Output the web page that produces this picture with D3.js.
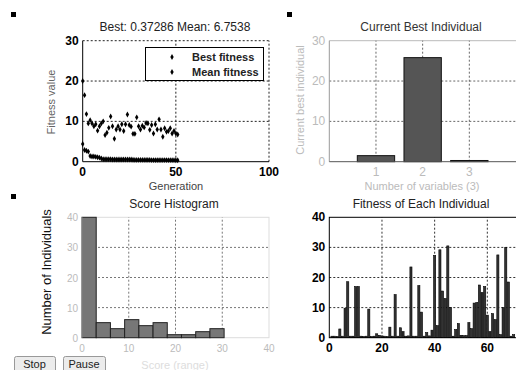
<!DOCTYPE html>
<html>
<head>
<meta charset="utf-8">
<script src="https://cdn.jsdelivr.net/npm/d3@7/dist/d3.min.js"></script>
<style>
  body { margin: 0; background: #fff; font-family: "Liberation Sans", Arial, sans-serif; }
  svg { display: block; }
</style>
</head>
<body>
<div id="chart"></div>
<script>
// ---- data ----
var bestFitness = [4.4, 2.9, 2.7, 2.5, 1.4, 1.3, 1.3, 1.2, 1.1, 1.0,
                   0.8, 0.6, 0.6, 0.6, 0.6, 0.6, 0.55, 0.55, 0.55, 0.55,
                   0.55, 0.55, 0.55, 0.55, 0.55, 0.55, 0.55, 0.5, 0.45, 0.45,
                   0.45, 0.45, 0.45, 0.45, 0.45, 0.45, 0.45, 0.4, 0.4, 0.4,
                   0.4, 0.4, 0.4, 0.4, 0.4, 0.4, 0.38, 0.38, 0.38, 0.38,
                   0.37, 0.37286];
var meanFitness = [20, 16.5, 11.8, 9.5, 10.3, 9.5, 8.8, 9.3, 7.7, 8.8,
                   9.5, 10, 6.6, 7.2, 8.4, 11.2, 8.8, 5.7, 8, 8.8,
                   8, 9.3, 7.6, 9.3, 11.7, 9.1, 8.7, 6.9, 6.9, 11,
                   8.8, 8, 8.9, 8.5, 9.6, 9.5, 7.9, 9.1, 7, 9.3,
                   8, 10.5, 8, 6.2, 8.3, 7.4, 7.6, 8.3, 7, 7.6,
                   7, 6.75];
var genTicks = [0, 50, 100];
var fitTicks = [0, 10, 20, 30];

var variables = [1, 2, 3];
var bestIndividual = [1.5, 25.8, 0.3];

var histEdges = [0, 3.04, 6.08, 9.12, 12.16, 15.2, 18.24, 21.28, 24.32, 27.36, 30.4];
var histCounts = [40, 5, 3, 6, 4, 5, 1, 1, 2, 3];
var histXTicks = [0, 10, 20, 30, 40];
var histYTicks = [0, 10, 20, 30, 40];

var individualFitness = [0.5, 0.5, 0.4, 2.9, 0.5, 9.8, 18.6, 0.5, 0.5, 17,
                         17, 0.5, 0.4, 0.5, 9.5, 0.4, 0.5, 1.3, 0.8, 0.6,
                         0.5, 0.4, 3.5, 0.5, 14.3, 0.5, 3.3, 2, 0.5, 0.6,
                         23.5, 0.5, 0.5, 17.3, 8.5, 0.5, 1.7, 0.6, 2.5, 27.3,
                         4, 29.2, 15.5, 13, 30.5, 10, 0.5, 2.7, 4.7, 0.8,
                         0.7, 0.7, 5, 3, 11.5, 11.7, 17.5, 15, 17, 7.5,
                         2, 8, 6, 27.5, 1, 10, 30, 18.5, 0.5, 1];
var indXTicks = [0, 20, 40, 60];
var indYTicks = [0, 10, 20, 30, 40];

var svg = d3.select("#chart").append("svg")
    .attr("width", 516)
    .attr("height", 370);

function grid(g, x, y, xs, ys, color) {
    g.selectAll(".gx").data(xs).enter().append("line")
        .attr("x1", function (d) { return x(d); }).attr("x2", function (d) { return x(d); })
        .attr("y1", y.range()[0]).attr("y2", y.range()[1])
        .attr("stroke", color).attr("stroke-dasharray", "2,2").attr("stroke-width", 1);
    g.selectAll(".gy").data(ys).enter().append("line")
        .attr("y1", function (d) { return y(d); }).attr("y2", function (d) { return y(d); })
        .attr("x1", x.range()[0]).attr("x2", x.range()[1])
        .attr("stroke", color).attr("stroke-dasharray", "2,2").attr("stroke-width", 1);
}

function ticks(g, x, y, xs, ys, color, weight, size) {
    g.selectAll(".tx").data(xs).enter().append("text")
        .attr("x", function (d) { return x(d); })
        .attr("y", y.range()[0] + 14)
        .attr("text-anchor", "middle")
        .attr("fill", color).attr("font-weight", weight).attr("font-size", size)
        .text(function (d) { return d; });
    g.selectAll(".ty").data(ys).enter().append("text")
        .attr("x", x.range()[0] - 4)
        .attr("y", function (d) { return y(d) + 4; })
        .attr("text-anchor", "end")
        .attr("fill", color).attr("font-weight", weight).attr("font-size", size)
        .text(function (d) { return d; });
}

function marker(x, y) {
    svg.append("rect").attr("x", x).attr("y", y).attr("width", 5).attr("height", 5).attr("fill", "#000");
}
marker(11, 12);
marker(287, 12);
marker(11, 194);

var diamond = d3.symbol().type(d3.symbolDiamond).size(10);

// ---- panel 1: fitness per generation ----
var x1 = d3.scaleLinear().domain([0, 100]).range([82.7, 269]);
var y1 = d3.scaleLinear().domain([0, 30]).range([161.7, 40.7]);
var p1 = svg.append("g");
grid(p1, x1, y1, [50, 100], [10, 20, 30], "#222");
p1.append("line").attr("x1", x1(0)).attr("x2", x1(0)).attr("y1", y1(0)).attr("y2", y1(30)).attr("stroke", "#000");
p1.append("line").attr("x1", x1(0)).attr("x2", x1(100)).attr("y1", y1(0)).attr("y2", y1(0)).attr("stroke", "#000");
ticks(p1, x1, y1, genTicks, fitTicks, "#000", "bold", 12);
p1.selectAll(".mean").data(meanFitness).enter().append("path")
    .attr("d", diamond)
    .attr("transform", function (d, i) { return "translate(" + x1(i) + "," + y1(d) + ")"; })
    .attr("fill", "#000");
p1.selectAll(".best").data(bestFitness).enter().append("path")
    .attr("d", diamond)
    .attr("transform", function (d, i) { return "translate(" + x1(i) + "," + y1(d) + ")"; })
    .attr("fill", "#000");
p1.append("text").attr("x", 175).attr("y", 31).attr("text-anchor", "middle")
    .attr("font-size", 12).attr("fill", "#222").text("Best: 0.37286 Mean: 6.7538");
p1.append("text").attr("x", 176).attr("y", 190).attr("text-anchor", "middle")
    .attr("font-size", 11).attr("fill", "#444").text("Generation");
p1.append("text").attr("transform", "translate(55,102)rotate(-90)").attr("text-anchor", "middle")
    .attr("font-size", 11).attr("fill", "#666").text("Fitness value");
// legend
var leg = p1.append("g");
leg.append("rect").attr("x", 145.5).attr("y", 47.5).attr("width", 118).attr("height", 33)
    .attr("fill", "#fff").attr("stroke", "#000");
leg.selectAll("path").data(["Best fitness", "Mean fitness"]).enter().append("path")
    .attr("d", diamond)
    .attr("transform", function (d, i) { return "translate(172," + (57 + i * 15) + ")"; })
    .attr("fill", "#000");
leg.selectAll("text").data(["Best fitness", "Mean fitness"]).enter().append("text")
    .attr("x", 192).attr("y", function (d, i) { return 61 + i * 15; })
    .attr("font-size", 11).attr("font-weight", "bold").attr("fill", "#222")
    .text(function (d) { return d; });

// ---- panel 2: current best individual ----
var x2 = d3.scaleLinear().domain([0, 4]).range([329.3, 516]);
var y2 = d3.scaleLinear().domain([0, 30]).range([161.7, 40.7]);
var p2 = svg.append("g");
p2.append("line").attr("x1", x2(0)).attr("x2", x2(4)).attr("y1", y2(30)).attr("y2", y2(30)).attr("stroke", "#bbb");
grid(p2, x2, y2, variables, [10, 20], "#666");
p2.append("line").attr("x1", x2(0)).attr("x2", x2(0)).attr("y1", y2(0)).attr("y2", y2(30)).attr("stroke", "#999");
p2.selectAll(".bar").data(bestIndividual).enter().append("rect")
    .attr("x", function (d, i) { return x2(variables[i] - 0.4); })
    .attr("y", function (d) { return y2(d); })
    .attr("width", x2(0.8) - x2(0))
    .attr("height", function (d) { return y2(0) - y2(d); })
    .attr("fill", "#555").attr("stroke", "#111");
p2.append("line").attr("x1", x2(0)).attr("x2", x2(4)).attr("y1", y2(0)).attr("y2", y2(0)).attr("stroke", "#555");
ticks(p2, x2, y2, variables, fitTicks, "#bbb", "normal", 12);
p2.append("text").attr("x", 421).attr("y", 31).attr("text-anchor", "middle")
    .attr("font-size", 12).attr("fill", "#333").text("Current Best Individual");
p2.append("text").attr("x", 422).attr("y", 190).attr("text-anchor", "middle")
    .attr("font-size", 11).attr("fill", "#bbb").text("Number of variables (3)");
p2.append("text").attr("transform", "translate(304,100)rotate(-90)").attr("text-anchor", "middle")
    .attr("font-size", 11).attr("fill", "#bbb").text("Current best individual");

// ---- panel 3: score histogram ----
var x3 = d3.scaleLinear().domain([0, 40]).range([82, 269]);
var y3 = d3.scaleLinear().domain([0, 40]).range([337.7, 217.3]);
var p3 = svg.append("g");
p3.append("rect").attr("x", x3(0)).attr("y", y3(40)).attr("width", x3(40) - x3(0)).attr("height", y3(0) - y3(40))
    .attr("fill", "none").attr("stroke", "#ddd");
grid(p3, x3, y3, [10, 20, 30], [10, 20, 30], "#777");
p3.selectAll(".bar").data(histCounts).enter().append("rect")
    .attr("x", function (d, i) { return x3(histEdges[i]); })
    .attr("y", function (d) { return y3(d); })
    .attr("width", function (d, i) { return x3(histEdges[i + 1]) - x3(histEdges[i]); })
    .attr("height", function (d) { return y3(0) - y3(d); })
    .attr("fill", "#777").attr("stroke", "#222");
p3.append("line").attr("x1", x3(0)).attr("x2", x3(0)).attr("y1", y3(0)).attr("y2", y3(40)).attr("stroke", "#aaa");
ticks(p3, x3, y3, histXTicks, histYTicks, "#bbb", "normal", 10);
p3.append("text").attr("x", 174).attr("y", 208).attr("text-anchor", "middle")
    .attr("font-size", 12).attr("fill", "#222").text("Score Histogram");
p3.append("text").attr("x", 175).attr("y", 369).attr("text-anchor", "middle")
    .attr("font-size", 11).attr("fill", "#ddd").text("Score (range)");
p3.append("text").attr("transform", "translate(51,272)rotate(-90)").attr("text-anchor", "middle")
    .attr("font-size", 13).attr("fill", "#111").text("Number of Individuals");

// buttons
[["Stop", 14, 41], ["Pause", 63, 42]].forEach(function (b) {
    svg.append("rect").attr("x", b[1] + 0.5).attr("y", 356.5).attr("width", b[2]).attr("height", 16)
        .attr("rx", 2).attr("fill", "#ececec").attr("stroke", "#999");
    svg.append("text").attr("x", b[1] + b[2] / 2).attr("y", 368).attr("text-anchor", "middle")
        .attr("font-size", 11).attr("fill", "#222").text(b[0]);
});

// ---- panel 4: fitness of each individual ----
var x4 = d3.scaleLinear().domain([0, 80]).range([329.3, 540]);
var y4 = d3.scaleLinear().domain([0, 40]).range([337.7, 217.3]);
var p4 = svg.append("g");
grid(p4, x4, y4, [20, 40, 60], [10, 20, 30], "#333");
p4.selectAll(".bar").data(individualFitness).enter().append("rect")
    .attr("x", function (d, i) { return x4(i + 1 - 0.4); })
    .attr("y", function (d) { return y4(d); })
    .attr("width", x4(0.8) - x4(0))
    .attr("height", function (d) { return y4(0) - y4(d); })
    .attr("fill", "#333").attr("stroke", "#000").attr("stroke-width", 0.6);
p4.append("rect").attr("x", x4(0)).attr("y", y4(40)).attr("width", x4(80) - x4(0)).attr("height", y4(0) - y4(40))
    .attr("fill", "none").attr("stroke", "#000");
ticks(p4, x4, y4, indXTicks, indYTicks, "#000", "bold", 12);
p4.append("text").attr("x", 421).attr("y", 208).attr("text-anchor", "middle")
    .attr("font-size", 12).attr("fill", "#222").text("Fitness of Each Individual");
</script>
</body>
</html>
